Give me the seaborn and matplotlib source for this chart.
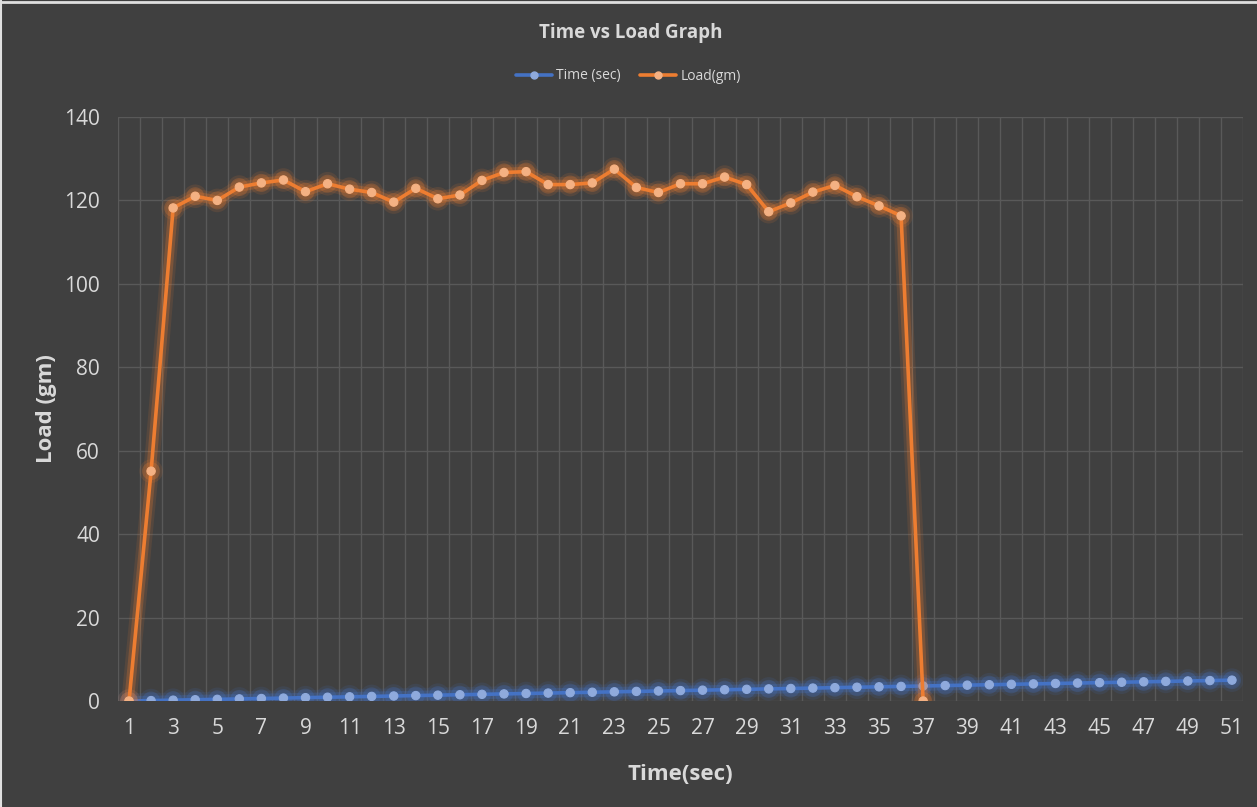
import matplotlib
matplotlib.use("Agg")
import matplotlib.pyplot as plt
import matplotlib.patheffects as pe
from matplotlib.lines import Line2D
import pandas as pd
import seaborn as sns

# data
x_index = list(range(1, 52))
time_sec = [0.0, 0.1, 0.2, 0.3, 0.4, 0.5, 0.6, 0.7, 0.8, 0.9,
            1.0, 1.1, 1.2, 1.3, 1.4, 1.5, 1.6, 1.7, 1.8, 1.9,
            2.0, 2.1, 2.2, 2.3, 2.4, 2.5, 2.6, 2.7, 2.8, 2.9,
            3.0, 3.1, 3.2, 3.3, 3.4, 3.5, 3.6, 3.7, 3.8, 3.9,
            4.0, 4.1, 4.2, 4.3, 4.4, 4.5, 4.6, 4.7, 4.8, 4.9, 5.0]
load_gm = [0, 55.1, 118.2, 121.0, 120.0, 123.2, 124.2, 124.9, 122.1, 124.0,
           122.7, 121.9, 119.6, 122.9, 120.4, 121.3, 124.8, 126.7, 126.9, 123.8,
           123.8, 124.2, 127.5, 123.1, 121.9, 124.0, 124.0, 125.6, 123.8, 117.3,
           119.4, 122.0, 123.6, 120.9, 118.7, 116.3, 0]
y_ticks = [0, 20, 40, 60, 80, 100, 120, 140]

BG = "#404040"
GRID = "#595959"
TEXT = "#d9d9d9"
BLUE, BLUE_LT = "#4472c4", "#8faadc"
ORANGE, ORANGE_LT = "#ed7d31", "#f4b183"

sns.set_theme(style="dark")
plt.rcParams["font.family"] = ["Open Sans", "DejaVu Sans"]

df_time = pd.DataFrame({"x": x_index, "y": time_sec})
df_load = pd.DataFrame({"x": x_index[:len(load_gm)], "y": load_gm})

fig = plt.figure(figsize=(12.57, 8.07), dpi=100, facecolor=BG)
ax = fig.add_axes([118 / 1257, 1 - 701 / 807, 1125 / 1257, 584 / 807])
ax.set_facecolor(BG)


def glow(color):
    return [pe.Stroke(linewidth=11, foreground=color, alpha=0.12),
            pe.Stroke(linewidth=7, foreground=color, alpha=0.25),
            pe.Normal()]


for df, c, clt in [(df_time, BLUE, BLUE_LT), (df_load, ORANGE, ORANGE_LT)]:
    sns.lineplot(data=df, x="x", y="y", ax=ax, color=c, linewidth=2.6,
                 marker="o", markersize=6, markerfacecolor=clt,
                 markeredgecolor=clt, path_effects=glow(c), zorder=3)

ax.set_xlim(0.5, 51.5)
ax.set_ylim(0, 140)
ax.set_xticks(x_index[::2])
ax.set_xticks([v + 0.5 for v in range(0, 52)], minor=True)
ax.set_yticks(y_ticks)
ax.grid(which="minor", axis="x", color=GRID, linewidth=1)
ax.grid(which="major", axis="y", color=GRID, linewidth=1)
ax.grid(which="major", axis="x", visible=False)
ax.tick_params(axis="both", which="both", length=0, colors=TEXT, labelsize=15)
ax.tick_params(axis="x", pad=12)
ax.tick_params(axis="y", pad=13)
for s in ax.spines.values():
    s.set_visible(False)

ax.set_xlabel("Time(sec)", fontsize=16, fontweight="bold", color=TEXT, labelpad=18)
ax.set_ylabel("Load (gm)", fontsize=16, fontweight="bold", color=TEXT, labelpad=5)

fig.text(0.502, 1 - 33 / 807, "Time vs Load Graph", ha="center", va="center",
         fontsize=13.5, fontweight="bold", color=TEXT)

handles = [Line2D([], [], color=BLUE, linewidth=2.6, marker="o", markersize=5,
                  markerfacecolor=BLUE_LT, markeredgecolor=BLUE_LT),
           Line2D([], [], color=ORANGE, linewidth=2.6, marker="o", markersize=5,
                  markerfacecolor=ORANGE_LT, markeredgecolor=ORANGE_LT)]
fig.legend(handles, ["Time (sec)", "Load(gm)"], loc="center",
           bbox_to_anchor=(0.5, 1 - 76 / 807), ncol=2, frameon=False,
           fontsize=10, labelcolor=TEXT, handlelength=2.6, columnspacing=1.4,
           handletextpad=0.3)

# thin light border on top and left edges as in the reference
fig.add_artist(Line2D([0, 1], [0.998, 0.998], color="#e0e0e0", linewidth=2,
                      transform=fig.transFigure))
fig.add_artist(Line2D([0.0008, 0.0008], [0, 1], color="#e0e0e0", linewidth=1.5,
                      transform=fig.transFigure))

fig.savefig("out.png", dpi=100, facecolor=BG)
